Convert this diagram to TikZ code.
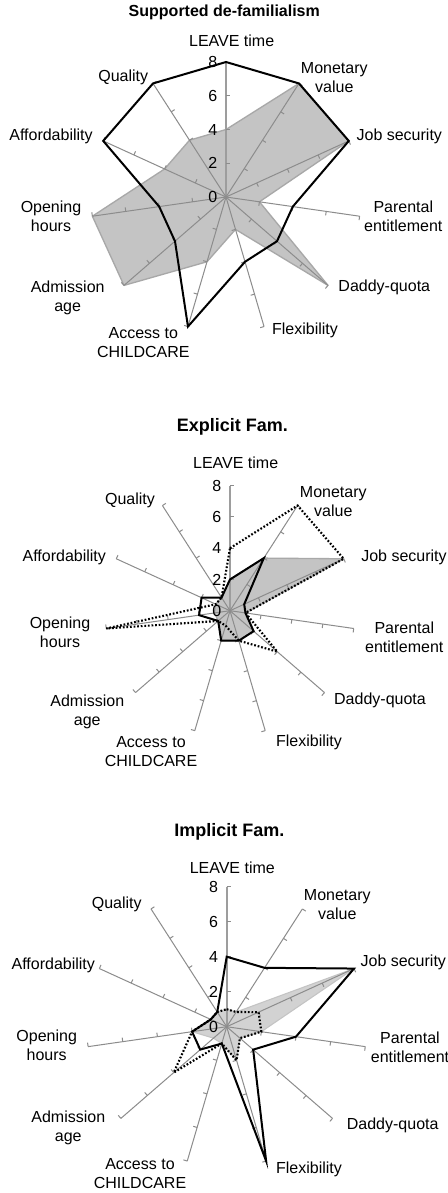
\documentclass[tikz,border=0pt]{standalone}
\usepackage{fontspec}
\setmainfont{Liberation Sans}
\definecolor{axisgray}{HTML}{8C8C8C}
\definecolor{fillgray}{HTML}{C4C4C4}
\definecolor{edgegray}{HTML}{A8A8A8}
\definecolor{fillgrayb}{HTML}{D2D2D2}
\tikzset{
  axisline/.style={draw=axisgray, line width=0.75pt},
  mainaxis/.style={draw=axisgray!85, line width=1.3pt},
  lbl/.style={font=\fontsize{12}{14.25}\selectfont, align=center, inner sep=0pt},
  vallbl/.style={font=\fontsize{12}{14}\selectfont, inner sep=0pt, anchor=east},
  ttl/.style={font=\fontsize{12}{14}\selectfont\bfseries, inner sep=0pt},
  ttlb/.style={font=\fontsize{13.5}{16}\selectfont\bfseries, inner sep=0pt},
  serblack/.style={draw=black, line width=1.5pt, line join=miter},
  serdot/.style={draw=black, line width=1.6pt, dash pattern=on 1.3pt off 1.4pt},
  serfill/.style={fill=fillgray, draw=edgegray, line width=1pt, line join=round},
  serfillb/.style={fill=fillgrayb, draw=fillgray, line width=0.8pt, line join=round},
}
% axes with ticks: prefix, cx, cy, R
\newcommand\radaxes[4]{%
  \coordinate (#1c) at (#2,#3);
  \foreach \k in {0,...,10}{
    \pgfmathsetmacro\ang{90-\k*360/11}
    \coordinate (#1e\k) at ({#2+#4*cos(\ang)},{#3-#4*sin(\ang)});
    \ifnum\k=0
      \draw[mainaxis] (#1c) -- (#1e\k);
    \else
      \draw[axisline] (#1c) -- (#1e\k);
    \fi
    \foreach \v in {2,4,6,8}{
      \draw[axisline] ({#2+\v/8*#4*cos(\ang)},{#3-\v/8*#4*sin(\ang)}) -- ++({4*sin(\ang)},{4*cos(\ang)});
    }
  }
}
% series points: prefix, cx, cy, R, values
\newcommand\radpts[5]{%
  \foreach \v [count=\i from 0] in {#5}{
    \coordinate (#1\i) at ({#2+\v/8*#4*cos(90-\i*360/11)},{#3-\v/8*#4*sin(90-\i*360/11)});
  }
}
\newcommand\radpoly[2]{%
  \draw[#1] (#20)--(#21)--(#22)--(#23)--(#24)--(#25)--(#26)--(#27)--(#28)--(#29)--(#210)--cycle;
}
% value labels: cx, cy, R
\newcommand\radvals[3]{%
  \foreach \v in {0,2,4,6,8}{
    \node[vallbl] at ({#1-8.5},{#2-\v/8*#3}) {\v};
  }
}
\begin{document}
\begin{tikzpicture}[x=0.75pt,y=-0.75pt]
\fill[white] (0,0) rectangle (447,1193);
\useasboundingbox (0,0) rectangle (447,1193);

% ---------------- Chart 1 ----------------
\radpts{Ag}{226}{197}{135}{4,8,8,2,8,2,4,8,8,4,4}
\radpts{Ab}{226}{197}{135}{8,8,8,4,4,4,8,4,4,8,8}
\radpoly{serfill}{Ag}
\radaxes{A}{226}{197}{135}
\radpoly{serblack}{Ab}
\radvals{226}{197}{135}
\node[ttl] (t1) at (224.3,12.7) {Supported de-familialism};
\node[lbl] (a1l0) at (231.7,40.7) {LEAVE time};
\node[lbl] (a1l1) at (334.3,77.5) {Monetary\\value};
\node[lbl] (a1l2) at (399.3,136.7) {Job security};
\node[lbl] (a1l3) at (403.3,216) {Parental\\entitlement};
\node[lbl] (a1l4) at (384.3,287.3) {Daddy-quota};
\node[lbl] (a1l5) at (305,330.7) {Flexibility};
\node[lbl] (a1l6) at (143.3,342.3) {Access to\\CHILDCARE};
\node[lbl] (a1l7) at (67.7,297.7) {Admission\\age};
\node[lbl] (a1l8) at (51,216) {Opening\\hours};
\node[lbl] (a1l9) at (51,136.7) {Affordability};
\node[lbl] (a1l10) at (123.3,77.7) {Quality};

% ---------------- Chart 2 ----------------
\radpts{Bg}{230}{610.7}{125}{2,4,8,1,2,2,2,1,1,1,1}
\radpts{Bb}{230}{610.7}{125}{2,4,1,1,2,2,2,1,2,2,1}
\radpts{Bd}{230}{610.7}{125}{4,8,8,1,4,2,1,1,8,1,1}
\radpoly{serfill}{Bg}
\radaxes{B}{230}{610.7}{125}
\radpoly{serblack}{Bb}
\radpoly{serdot}{Bd}
\radvals{230}{610.7}{125}
\node[ttlb] (t2) at (232.3,426.7) {Explicit Fam.};
\node[lbl] (b1l0) at (235.7,462.3) {LEAVE time};
\node[lbl] (b1l1) at (333.3,501.3) {Monetary\\value};
\node[lbl] (b1l2) at (404,557.3) {Job security};
\node[lbl] (b1l3) at (404.3,637) {Parental\\entitlement};
\node[lbl] (b1l4) at (380,700) {Daddy-quota};
\node[lbl] (b1l5) at (309,742.3) {Flexibility};
\node[lbl] (b1l6) at (151,751.7) {Access to\\CHILDCARE};
\node[lbl] (b1l7) at (87.3,712) {Admission\\age};
\node[lbl] (b1l8) at (60,632) {Opening\\hours};
\node[lbl] (b1l9) at (64.3,557.3) {Affordability};
\node[lbl] (b1l10) at (130,500.7) {Quality};

% ---------------- Chart 3 ----------------
\radpts{Cg}{226.7}{1026.7}{140}{1,1,8,2,1,2,1,1,2,1,1}
\radpts{Cb}{226.7}{1026.7}{140}{4,4,8,4,2,8,1,2,2,1,1}
\radpts{Cd}{226.7}{1026.7}{140}{1,1,2,2,1,2,1,4,2,1,1}
\radpoly{serfillb}{Cg}
\radaxes{C}{226.7}{1026.7}{140}
\radpoly{serblack}{Cb}
\radpoly{serdot}{Cd}
\radvals{226.7}{1026.7}{140}
\node[ttlb] (t3) at (229.3,832.3) {Implicit Fam.};
\node[lbl] (c1l0) at (232.3,867.7) {LEAVE time};
\node[lbl] (c1l1) at (337.3,904.2) {Monetary\\value};
\node[lbl] (c1l2) at (403.3,962.7) {Job security};
\node[lbl] (c1l3) at (410,1047.5) {Parental\\entitlement};
\node[lbl] (c1l4) at (392.7,1125) {Daddy-quota};
\node[lbl] (c1l5) at (309,1169.3) {Flexibility};
\node[lbl] (c1l6) at (140,1173.3) {Access to\\CHILDCARE};
\node[lbl] (c1l7) at (68.3,1128.3) {Admission\\age};
\node[lbl] (c1l8) at (46.7,1045.5) {Opening\\hours};
\node[lbl] (c1l9) at (53.3,965) {Affordability};
\node[lbl] (c1l10) at (116.7,904) {Quality};
\end{tikzpicture}
\end{document}
